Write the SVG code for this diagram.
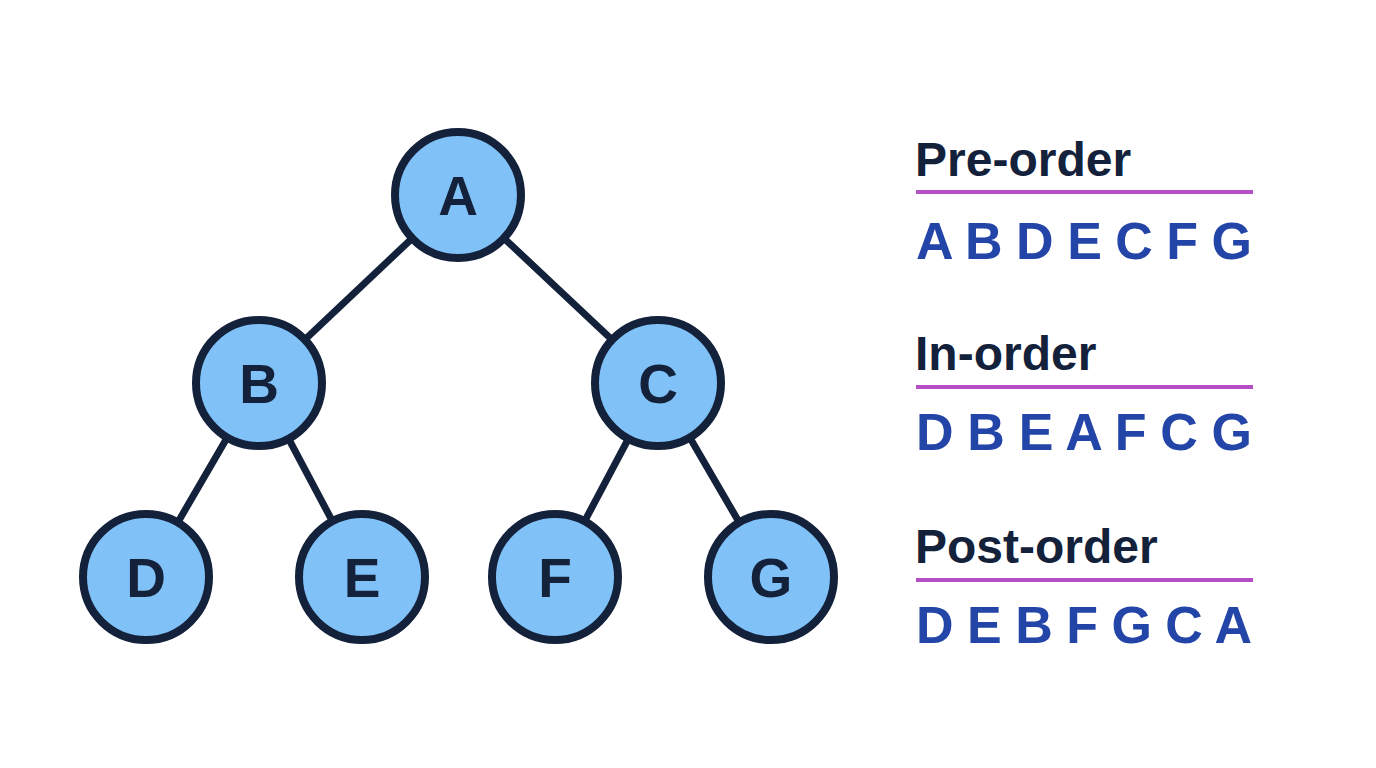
<svg xmlns="http://www.w3.org/2000/svg" width="1376" height="768" viewBox="0 0 1376 768">
<style>
.edge{stroke:#14213b;stroke-width:7;stroke-linecap:round}
.node circle{fill:#80c1f7;stroke:#14213b;stroke-width:8}
.node text{font-family:"Liberation Sans",Arial,sans-serif;font-weight:bold;font-size:55px;fill:#14213b;text-anchor:middle}
.title{font-family:"Liberation Sans",Arial,sans-serif;font-weight:bold;font-size:48px;fill:#14213b}
.seq{font-family:"Liberation Sans",Arial,sans-serif;font-weight:bold;font-size:52px;fill:#2445a8}
.rule{stroke:#b44fc6;stroke-width:4}
</style>
<rect width="1376" height="768" fill="#ffffff"/>
<g id="connectors">
<line class="edge" x1="458" y1="195" x2="259" y2="383"/>
<line class="edge" x1="458" y1="195" x2="658" y2="383"/>
<line class="edge" x1="259" y1="383" x2="146" y2="577"/>
<line class="edge" x1="259" y1="383" x2="362" y2="577"/>
<line class="edge" x1="658" y1="383" x2="555" y2="577"/>
<line class="edge" x1="658" y1="383" x2="771" y2="577"/>
</g>
<g id="node-A" class="node"><circle cx="458" cy="195" r="63"/><text x="458" y="215">A</text></g>
<g id="node-B" class="node"><circle cx="259" cy="383" r="63"/><text x="259" y="403">B</text></g>
<g id="node-C" class="node"><circle cx="658" cy="383" r="63"/><text x="658" y="403">C</text></g>
<g id="node-D" class="node"><circle cx="146" cy="577" r="63"/><text x="146" y="597">D</text></g>
<g id="node-E" class="node"><circle cx="362" cy="577" r="63"/><text x="362" y="597">E</text></g>
<g id="node-F" class="node"><circle cx="555" cy="577" r="63"/><text x="555" y="597">F</text></g>
<g id="node-G" class="node"><circle cx="771" cy="577" r="63"/><text x="771" y="597">G</text></g>
<g id="preorder">
<text class="title" x="915" y="176">Pre-order</text>
<line class="rule" x1="916" y1="192" x2="1253" y2="192"/>
<text class="seq" x="916" y="259" textLength="336" lengthAdjust="spacing">A B D E C F G</text>
</g>
<g id="inorder">
<text class="title" x="915" y="370">In-order</text>
<line class="rule" x1="916" y1="387" x2="1253" y2="387"/>
<text class="seq" x="916" y="450" textLength="336" lengthAdjust="spacing">D B E A F C G</text>
</g>
<g id="postorder">
<text class="title" x="915" y="563">Post-order</text>
<line class="rule" x1="916" y1="580" x2="1253" y2="580"/>
<text class="seq" x="916" y="643" textLength="336" lengthAdjust="spacing">D E B F G C A</text>
</g>
</svg>
